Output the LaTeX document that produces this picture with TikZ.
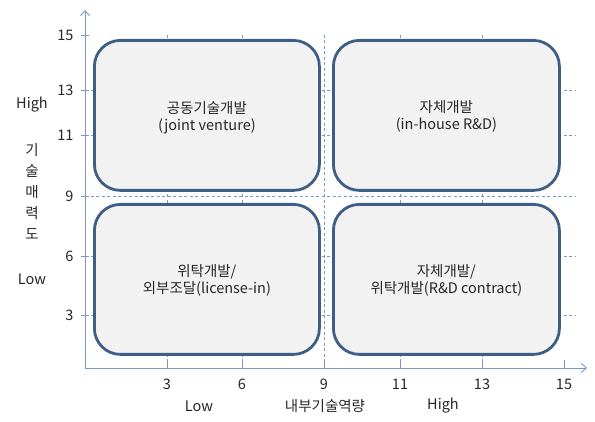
\documentclass[tikz,border=0pt]{standalone}
\usepackage{fontspec}
\setmainfont{Noto Sans CJK KR}
\usetikzlibrary{arrows.meta}
\definecolor{axisc}{HTML}{7A98C0}
\definecolor{boxc}{HTML}{3F5E85}
\definecolor{fillc}{HTML}{F2F2F2}
\begin{document}
\begin{tikzpicture}[x=1pt,y=-1pt,
  axisline/.style={draw=axisc,line width=0.9pt},
  gridline/.style={draw=axisc,line width=0.6pt,dash pattern=on 3pt off 2.5pt},
  quad/.style={draw=boxc,fill=fillc,line width=2.8pt,rounded corners=26pt},
  qtext/.style={align=center,font=\fontsize{14.5}{17}\selectfont,text=black!85},
  lab/.style={font=\fontsize{14.5}{16}\selectfont,text=black!85},
  ]
\useasboundingbox (0,0) rectangle (595,422);
% gridlines
\foreach \y in {90,135,196,256,315}
  \draw[gridline] (85,\y) -- (575,\y);
\foreach \x in {167,242,324,400,482}
  \draw[gridline] (\x,368) -- (\x,33);
% boxes
\node[quad,minimum width=225pt,minimum height=150pt,anchor=north west] (tl) at (93,39) {};
\node[quad,minimum width=225pt,minimum height=150pt,anchor=north west] (bl) at (93,203) {};
\node[quad,minimum width=226pt,minimum height=150pt,anchor=north west] (tr) at (332,39) {};
\node[quad,minimum width=226pt,minimum height=150pt,anchor=north west] (br) at (332,203) {};
\node[qtext] (tlt) at (tl.center) [yshift=-2pt] {공동기술개발\\(joint venture)};
\node[qtext] (trt) at (tr.center) [yshift=-1pt] {자체개발\\(in-house R\&D)};
\node[qtext] (blt) at (bl.center) [yshift=-1pt] {위탁개발/\\외부조달(license-in)};
\node[qtext] (brt) at (br.center) [yshift=-1pt] {자체개발/\\위탁개발(R\&D contract)};
% axes
\coordinate (o) at (85,368);
\coordinate (ytop) at (85,10);
\coordinate (xend) at (587,368);
\draw[axisline,-{Straight Barb[length=5pt,width=9pt]}] (o) -- (ytop);
\draw[axisline,-{Straight Barb[length=5pt,width=9pt]}] (o) -- (xend);
% y ticks
\foreach \y/\t in {35/15,90/13,135/11,196/9,256/6,315/3}{
  \draw[axisline] (81,\y) -- (89,\y);
  \node[lab,anchor=east] at (77,\y) {\t};
}
% x ticks
\foreach \x/\t in {167/3,242/6,324/9,400/11,482/13,564/15}{
  \draw[axisline] (\x,368) -- (\x,360);
  \node[lab] at (\x,384) {\t};
}
% labels
\node[lab] (yh) at (32,105) {High};
\node[lab] (yl) at (32,279) {Low};
\node[lab,align=center,font=\fontsize{14.5}{21}\selectfont] (yt) at (32,192) {기\\술\\매\\력\\도};
\node[lab] (xl) at (199,406) {Low};
\node[lab] (xt) at (325,406) {내부기술역량};
\node[lab] (xh) at (443,406) {High};
\end{tikzpicture}
\end{document}
